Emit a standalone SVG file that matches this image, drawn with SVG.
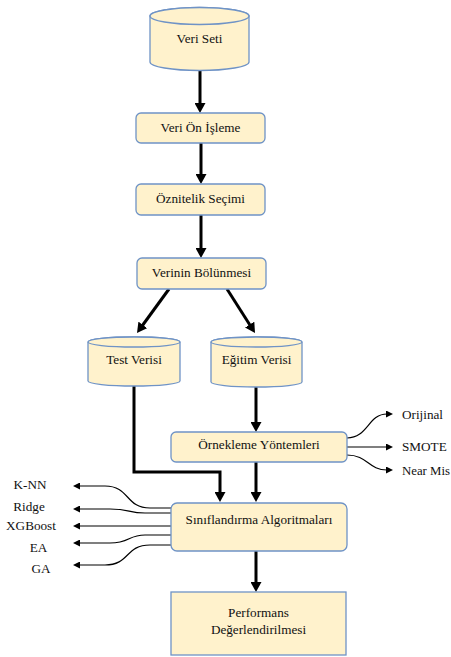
<svg xmlns="http://www.w3.org/2000/svg" width="451" height="657" viewBox="0 0 451 657">
<style>
.n{fill:#FFF2CC;stroke:#6F93C6;stroke-width:1.3}
text{fill:#111}
.t{text-anchor:middle}
.thick{fill:none;stroke:#000;stroke-width:3;marker-end:url(#big)}
.thin{fill:none;stroke:#000;stroke-width:1.2;marker-end:url(#small)}
</style>
<defs>
<marker id="big" markerUnits="userSpaceOnUse" markerWidth="11" markerHeight="11" refX="2" refY="5.5" orient="auto"><path d="M0,0 L10,5.5 L0,11 z" fill="#000"/></marker>
<marker id="small" markerUnits="userSpaceOnUse" markerWidth="7" markerHeight="7" refX="1" refY="3.5" orient="auto"><path d="M0,0 L7,3.5 L0,7 z" fill="#000"/></marker>
</defs>
<rect width="451" height="657" fill="#fff"/>
<g id="connectors">
<path class="thick" d="M200,71 V105"/>
<path class="thick" d="M201,143 V176"/>
<path class="thick" d="M201,215 V250"/>
<path class="thick" d="M169,289 L141.7,326.5"/>
<path class="thick" d="M227,289 L250.7,326.3"/>
<path class="thick" d="M256,387 V424"/>
<path class="thick" d="M134,386 V472 H220 V494"/>
<path class="thick" d="M256,462 V494"/>
<path class="thick" d="M256,551 V584"/>
<path class="thin" d="M347,438 C368,438 368,414 387,414"/>
<path class="thin" d="M347,447 H387"/>
<path class="thin" d="M347,455 C368,455 368,470 387,470"/>
<path class="thin" d="M171,508 L150,508 C125,508 130,486 105,486 L79,486"/>
<path class="thin" d="M171,513 L145,513 C128,513 130,509 110,509 L79,509"/>
<path class="thin" d="M171,526 H79"/>
<path class="thin" d="M171,535 L145,535 C128,535 130,543 110,543 L79,543"/>
<path class="thin" d="M171,545 L150,545 C125,545 130,565 105,565 L79,565"/>
</g>
<g font-family="'Liberation Serif', 'Times New Roman', serif" font-size="13.2">
<g id="veri-seti">
<path class="n" d="M150,16 V62 A49.5,8.5 0 0 0 249,62 V16 A49.5,8.5 0 0 0 150,16 Z"/>
<ellipse class="n" cx="199.5" cy="16" rx="49.5" ry="8.5"/>
<text class="t" x="199.5" y="43">Veri Seti</text>
</g>
<g id="veri-on-isleme">
<rect class="n" x="136" y="113" width="129" height="30" rx="5"/>
<text class="t" x="200.5" y="132">Veri Ön İşleme</text>
</g>
<g id="oznitelik-secimi">
<rect class="n" x="136" y="184" width="129" height="31" rx="5"/>
<text class="t" x="200.5" y="203">Öznitelik Seçimi</text>
</g>
<g id="verinin-bolunmesi">
<rect class="n" x="137" y="258" width="129" height="31" rx="5"/>
<text class="t" x="201.5" y="277">Verinin Bölünmesi</text>
</g>
<g id="test-verisi">
<path class="n" d="M88,342 V381 A46,5 0 0 0 180,381 V342 A46,5 0 0 0 88,342 Z"/>
<ellipse class="n" cx="134" cy="342" rx="46" ry="5"/>
<text class="t" x="134" y="364">Test Verisi</text>
</g>
<g id="egitim-verisi">
<path class="n" d="M211,342 V382 A45.5,5 0 0 0 302,382 V342 A45.5,5 0 0 0 211,342 Z"/>
<ellipse class="n" cx="256.5" cy="342" rx="45.5" ry="5"/>
<text class="t" x="256.5" y="364">Eğitim Verisi</text>
</g>
<g id="ornekleme-yontemleri">
<rect class="n" x="171" y="432" width="176" height="30" rx="5"/>
<text class="t" x="259" y="449">Örnekleme Yöntemleri</text>
</g>
<g id="siniflandirma">
<rect class="n" x="171" y="503" width="176" height="48" rx="6"/>
<text class="t" x="259" y="524">Sınıflandırma Algoritmaları</text>
</g>
<g id="performans">
<rect class="n" x="171" y="592" width="175" height="63"/>
<text class="t" x="258.5" y="617">Performans</text>
<text class="t" x="258.5" y="634">Değerlendirilmesi</text>
</g>
<g id="labels-right">
<text x="402" y="419">Orijinal</text>
<text x="402" y="451">SMOTE</text>
<text x="402" y="475" font-size="12.8">Near Mis</text>
</g>
<g id="labels-left">
<text class="t" x="30" y="489">K-NN</text>
<text class="t" x="29" y="511">Ridge</text>
<text class="t" x="31" y="530">XGBoost</text>
<text class="t" x="38.5" y="552">EA</text>
<text class="t" x="41" y="573">GA</text>
</g>
</g>
</svg>
